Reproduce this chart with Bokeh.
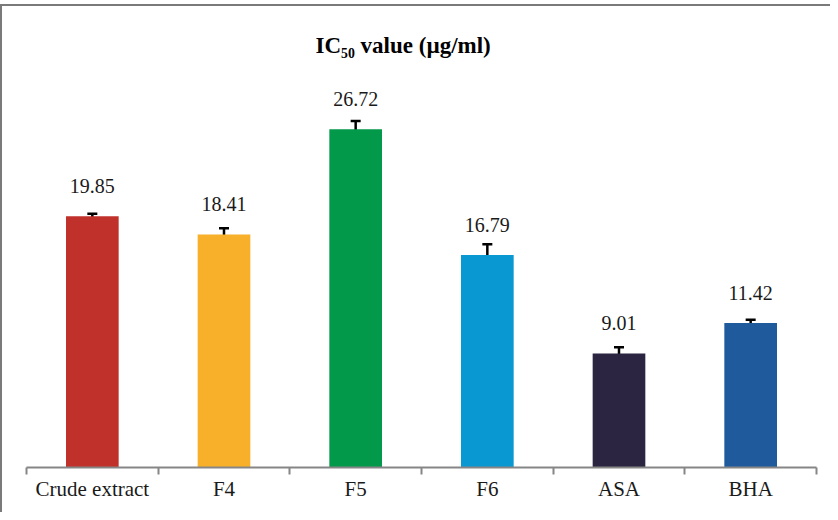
from bokeh.plotting import figure
from bokeh.models import (ColumnDataSource, Whisker, TeeHead, Range1d, LinearAxis,
                          CategoricalAxis, FixedTicker, Title)
from bokeh.core.properties import value
from bokeh.embed import file_html
from bokeh.resources import INLINE

# ---- data ----
categories = ["Crude extract", "F4", "F5", "F6", "ASA", "BHA"]
ic50_values = [19.85, 18.41, 26.72, 16.79, 9.01, 11.42]
ic50_errors = [0.2, 0.5, 0.65, 0.85, 0.5, 0.25]
bar_colors = ["#C0312B", "#F8B02A", "#03994A", "#0A98D2", "#2B2541", "#1F5B9C"]
title_text = "IC\u2085\u2080 value (\u00b5g/ml)"

src = ColumnDataSource(dict(
    cat=categories,
    val=ic50_values,
    upper=[v + e for v, e in zip(ic50_values, ic50_errors)],
    lower=[v - e for v, e in zip(ic50_values, ic50_errors)],
    color=bar_colors,
    label=[f"{v:.2f}" for v in ic50_values],
))

SERIF = "'Liberation Serif', 'Times New Roman', serif"
W, H = 830, 512
EDGE = "#7a7a7a"

# outer chart-area frame: left and top edges only, painted behind the canvas
frame_css = (f"linear-gradient({EDGE},{EDGE}) 0px 4px / 100% 2px no-repeat, "
             f"linear-gradient({EDGE},{EDGE}) 0px 4px / 2px 100% no-repeat, white")

p = figure(x_range=categories, y_range=Range1d(0, 32),
           width=W, height=H, output_backend="svg", toolbar_location=None,
           x_axis_location=None, y_axis_location=None,
           min_border_left=26, min_border_right=14, min_border_top=62, min_border_bottom=45,
           background_fill_color="white", border_fill_color=None,
           styles={"background": frame_css})
p.outline_line_color = None
p.xgrid.visible = False
p.ygrid.visible = False

t = Title(text=title_text, align="left", offset=289, text_font=SERIF,
          text_font_size="23px", text_font_style="bold", text_color="black")
p.title = t

p.vbar(x="cat", top="val", width=0.4, bottom=0, source=src,
       fill_color="color", line_color=None)

w = Whisker(source=src, base="cat", upper="upper", lower="lower",
            line_color="black", line_width=2.5,
            upper_head=TeeHead(size=10, line_color="black", line_width=2.5),
            lower_head=TeeHead(size=10, line_color="black", line_width=2.5))
p.add_layout(w)

p.text(x="cat", y="val", text="label", source=src, text_align="center",
       text_baseline="middle", y_offset=-30, text_font=value(SERIF),
       text_font_size="20px", text_color="#1a1a1a")

# axis line with ticks at category boundaries (synthetic coordinates 0..N)
n_bound = len(categories) + 1
tick_axis = LinearAxis(ticker=FixedTicker(ticks=list(range(n_bound))),
                       axis_line_color="#868686", axis_line_width=2,
                       major_tick_line_color="#868686", major_tick_line_width=2,
                       major_tick_in=0, major_tick_out=7,
                       minor_tick_line_color=None,
                       major_label_overrides={i: "" for i in range(n_bound)},
                       major_label_text_font_size="1px", major_label_standoff=0)
p.add_layout(tick_axis, "below")

cat_axis = CategoricalAxis(axis_line_color=None, major_tick_line_color=None,
                           major_tick_in=0, major_tick_out=0, minor_tick_line_color=None,
                           major_label_standoff=2,
                           major_label_text_font=SERIF, major_label_text_font_size="21px",
                           major_label_text_color="#1a1a1a")
p.add_layout(cat_axis, "below")

open("out.html", "w").write(file_html(p, INLINE))
